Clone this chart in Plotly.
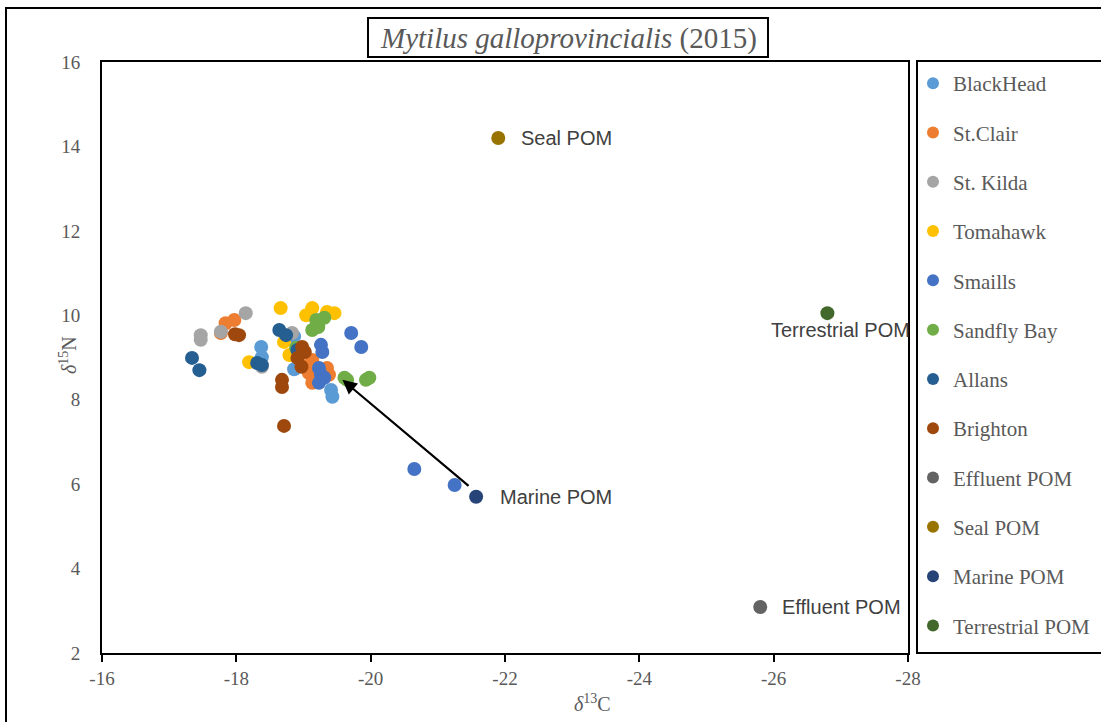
import plotly.graph_objects as go

# ---- data (delta13C, delta15N) ----
series_names = ["BlackHead", "St.Clair", "St. Kilda", "Tomahawk", "Smaills", "Sandfly Bay",
                "Allans", "Brighton", "Effluent POM", "Seal POM", "Marine POM", "Terrestrial POM"]
series_colors = ["#5B9BD5", "#ED7D31", "#A5A5A5", "#FFC000", "#4472C4", "#70AD47",
                 "#255E91", "#9E480E", "#636363", "#997300", "#264478", "#43682B"]

blackhead_x = [-18.37, -18.38, -18.86, -18.86, -19.41, -19.43]
blackhead_y = [9.25, 9.01, 8.72, 9.50, 8.23, 8.07]
stclair_x = [-17.84, -17.97, -17.77, -19.13, -19.08, -19.13, -19.35, -19.38, -19.00]
stclair_y = [9.81, 9.89, 9.58, 8.94, 8.63, 8.40, 8.75, 8.59, 8.80]
stkilda_x = [-18.14, -17.47, -17.47, -17.77, -18.83, -18.38]
stkilda_y = [10.05, 9.53, 9.42, 9.61, 9.58, 8.78]
tomahawk_x = [-18.66, -19.13, -19.04, -19.35, -19.46, -18.19, -18.71, -18.79]
tomahawk_y = [10.17, 10.17, 10.00, 10.08, 10.05, 8.89, 9.37, 9.06]
smaills_x = [-19.71, -19.86, -19.26, -19.28, -19.23, -19.26, -19.31, -19.23, -20.65, -21.25]
smaills_y = [9.58, 9.25, 9.30, 9.13, 8.75, 8.59, 8.52, 8.40, 6.36, 5.98]
sandfly_x = [-19.19, -19.31, -19.13, -19.22, -19.61, -19.65, -19.93, -19.98, -18.89]
sandfly_y = [9.89, 9.94, 9.65, 9.72, 8.52, 8.47, 8.47, 8.52, 9.23]
allans_x = [-17.34, -17.45, -18.64, -18.74, -18.31, -18.38, -18.91]
allans_y = [8.99, 8.70, 9.65, 9.53, 8.87, 8.82, 9.18]
brighton_x = [-18.04, -17.98, -18.68, -18.68, -18.71, -18.98, -19.02, -18.91, -18.97]
brighton_y = [9.53, 9.55, 8.47, 8.30, 7.38, 9.25, 9.13, 8.99, 8.78]
effluent_x = [-25.80]
effluent_y = [3.09]
seal_x = [-21.90]
seal_y = [14.20]
marine_x = [-21.57]
marine_y = [5.70]
terrestrial_x = [-26.80]
terrestrial_y = [10.05]

xs = [blackhead_x, stclair_x, stkilda_x, tomahawk_x, smaills_x, sandfly_x,
      allans_x, brighton_x, effluent_x, seal_x, marine_x, terrestrial_x]
ys = [blackhead_y, stclair_y, stkilda_y, tomahawk_y, smaills_y, sandfly_y,
      allans_y, brighton_y, effluent_y, seal_y, marine_y, terrestrial_y]

x_ticks = [-16, -18, -20, -22, -24, -26, -28]
y_ticks = [2, 4, 6, 8, 10, 12, 14, 16]

SERIF = "Liberation Serif"
SANS = "Liberation Sans"
GRAY = "#595959"
LABEL = "#404040"

fig = go.Figure()
for i, name in enumerate(series_names):
    fig.add_trace(go.Scatter(
        x=xs[i], y=ys[i], mode="markers", name=name, legendgroup=name,
        marker=dict(size=14, color=series_colors[i], line=dict(width=0)),
    ))

W, H = 1101, 722
L, R, T, B = 102, 908, 62, 653
pw, ph = R - L, B - T


def px(x):
    return (x - L) / pw


def py(y):
    return (B - y) / ph


shapes = [
    # outer border
    dict(type="rect", xref="paper", yref="paper", x0=px(6), x1=px(1130), y0=py(8), y1=py(760),
         line=dict(color="#000000", width=2), layer="below"),
    # title box
    dict(type="rect", xref="paper", yref="paper", x0=px(368), x1=px(768), y0=py(18), y1=py(57),
         line=dict(color="#000000", width=2)),
    # legend box
    dict(type="rect", xref="paper", yref="paper", x0=px(917), x1=px(1130), y0=py(61), y1=py(653),
         line=dict(color="#000000", width=2)),
]

annotations = [
    dict(text="<i>Mytilus galloprovincialis</i> (2015)", xref="paper", yref="paper",
         x=px(568), y=py(38), xanchor="center", yanchor="middle", showarrow=False,
         font=dict(family=SERIF, size=29, color=GRAY)),
    dict(text="<i>δ</i><sup>15</sup>N", xref="paper", yref="paper", x=px(68), y=py(355),
         xanchor="center", yanchor="middle",
         showarrow=False, textangle=-90, font=dict(family=SERIF, size=20, color=GRAY)),
    dict(text="<i>δ</i><sup>13</sup>C", xref="paper", yref="paper", x=px(592), y=py(703),
         xanchor="center", yanchor="middle",
         showarrow=False, font=dict(family=SERIF, size=20, color=GRAY)),
    dict(text="Seal POM", x=-22.21, y=14.2, xanchor="left", yanchor="middle", showarrow=False,
         font=dict(family=SANS, size=20, color=LABEL)),
    dict(text="Terrestrial POM", x=-26.99, y=9.65, xanchor="center", yanchor="middle",
         showarrow=False, font=dict(family=SANS, size=20, color=LABEL)),
    dict(text="Marine POM", x=-21.89, y=5.70, xanchor="left", yanchor="middle", showarrow=False,
         font=dict(family=SANS, size=20, color=LABEL)),
    dict(text="Effluent POM", x=-26.10, y=3.09, xanchor="left", yanchor="middle", showarrow=False,
         font=dict(family=SANS, size=20, color=LABEL)),
    dict(text="", x=-19.58, y=8.47, ax=-21.48, ay=5.93, axref="x", ayref="y",
         showarrow=True, arrowhead=2, arrowsize=1.3, arrowwidth=2.2, arrowcolor="#000000"),
]

fig.update_layout(
    width=W, height=H,
    margin=dict(l=L, r=W - R, t=T, b=H - B, pad=0, autoexpand=False),
    paper_bgcolor="white", plot_bgcolor="white",
    showlegend=True,
    legend=dict(x=px(913), y=py(63), xanchor="left", yanchor="top",
                font=dict(family=SERIF, size=21, color=GRAY),
                tracegroupgap=19, traceorder="grouped", bgcolor="rgba(0,0,0,0)",
                borderwidth=0, itemsizing="constant"),
    xaxis=dict(range=[-16, -28], tickvals=x_ticks, ticktext=[str(v) for v in x_ticks],
               showgrid=False, zeroline=False, showline=True, mirror=True,
               linecolor="#000000", linewidth=2, ticks="outside", ticklen=7,
               tickwidth=2, tickcolor="#000000",
               tickfont=dict(family=SERIF, size=19, color=GRAY)),
    yaxis=dict(range=[2, 16], tickvals=y_ticks, ticktext=[str(v) for v in y_ticks],
               showgrid=False, zeroline=False, showline=True, mirror=True,
               linecolor="#000000", linewidth=2, ticks="", ticklabelstandoff=16,
               tickfont=dict(family=SERIF, size=19, color=GRAY)),
    shapes=shapes,
    annotations=annotations,
)

fig.write_html("out.html")
